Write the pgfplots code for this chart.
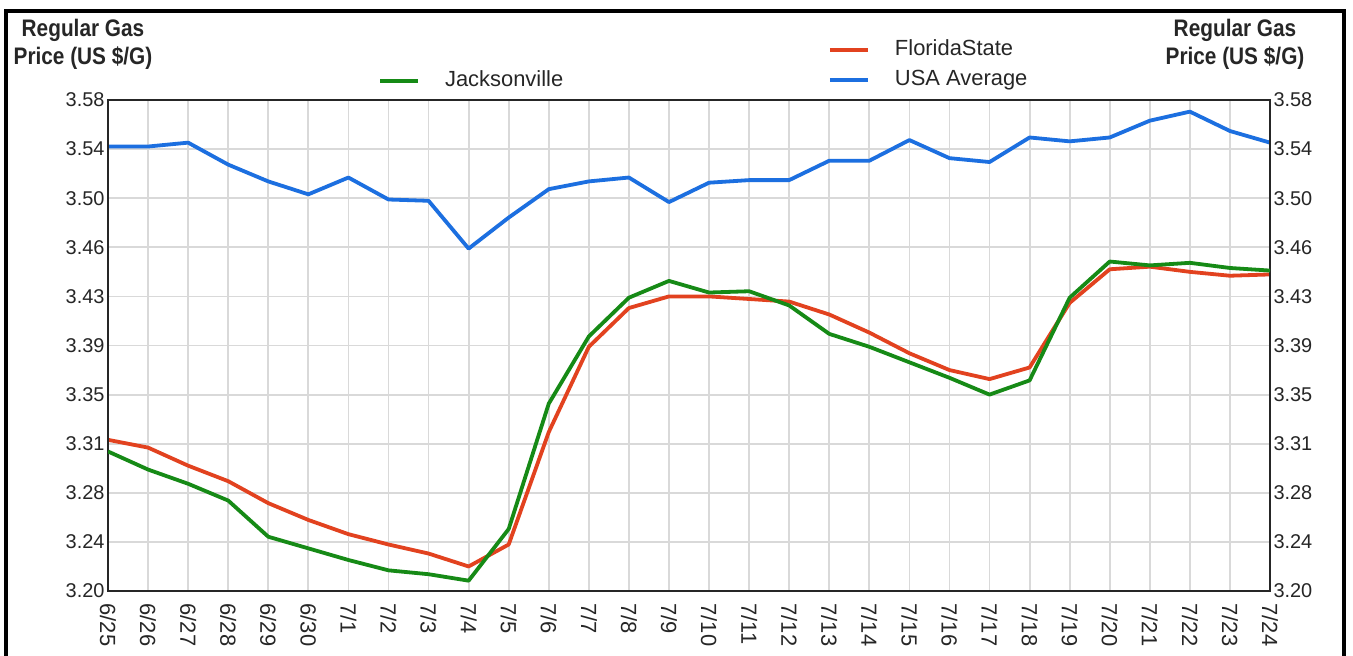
\documentclass[border=0pt]{standalone}
\usepackage{fontspec}
\setmainfont{Liberation Sans}
\newfontfamily\titlefont{Liberation Sans}[FakeStretch=0.87]
\usepackage{pgfplots}
\pgfplotsset{compat=1.18}
\usepackage{pgfplotstable}

\definecolor{cgreen}{HTML}{168A16}
\definecolor{cred}{HTML}{E2421F}
\definecolor{cblue}{HTML}{1C6FE0}
\definecolor{cgrid}{HTML}{D9D9D9}
\definecolor{ctext}{HTML}{262626}

\pgfplotstableread{
x y
0 3.544
1 3.544
2 3.547
3 3.530
4 3.517
5 3.507
6 3.520
7 3.503
8 3.502
9 3.465
10 3.489
11 3.511
12 3.517
13 3.520
14 3.501
15 3.516
16 3.518
17 3.518
18 3.533
19 3.533
20 3.549
21 3.535
22 3.532
23 3.551
24 3.548
25 3.551
26 3.564
27 3.571
28 3.556
29 3.547
}\usa

\pgfplotstableread{
x y
0 3.317
1 3.311
2 3.297
3 3.285
4 3.268
5 3.255
6 3.244
7 3.236
8 3.229
9 3.219
10 3.236
11 3.323
12 3.389
13 3.419
14 3.428
15 3.428
16 3.426
17 3.424
18 3.414
19 3.400
20 3.384
21 3.371
22 3.364
23 3.373
24 3.423
25 3.449
26 3.451
27 3.447
28 3.444
29 3.445
}\florida

\pgfplotstableread{
x y
0 3.308
1 3.294
2 3.283
3 3.270
4 3.242
5 3.233
6 3.224
7 3.216
8 3.213
9 3.208
10 3.248
11 3.345
12 3.397
13 3.427
14 3.440
15 3.431
16 3.432
17 3.421
18 3.399
19 3.389
20 3.377
21 3.365
22 3.352
23 3.363
24 3.427
25 3.455
26 3.452
27 3.454
28 3.450
29 3.448
}\jax

\pgfplotsset{
  base/.style={
    scale only axis, width=1162bp, height=491bp,
    at={(108bp,-591bp)}, anchor=south west,
    xmin=0, xmax=29, ymin=3.2, ymax=3.58,
    ytick={3.200,3.238,3.276,3.314,3.352,3.390,3.428,3.466,3.504,3.542,3.580},
    yticklabels={3.20,3.24,3.28,3.31,3.35,3.39,3.43,3.46,3.50,3.54,3.58},
    tick style={draw=none},
    axis line style={line width=2bp, color=black!85},
    ticklabel style={font=\fontsize{20}{24}\selectfont, text=ctext},
    /pgf/number format/assume math mode=true,
    legend style={draw=none, fill=none, inner sep=0pt, outer sep=0pt,
      font=\fontsize{22}{26}\selectfont, text=ctext,
      nodes={inner sep=0pt, text height=16bp, text depth=5bp},
      row sep=9bp,
      /tikz/every odd column/.append style={column sep=25bp}},
    legend cell align=left,
    legend image code/.code={\draw[#1, line width=4bp] (0bp,0bp) -- (38bp,0bp);},
  },
}

\begin{document}
\begin{tikzpicture}[x=1bp,y=1bp]
\useasboundingbox (0,0) rectangle (1353,-656);
\clip (0,0) rectangle (1353,-656);
\fill[white] (0,0) rectangle (1353,-656);
\draw[line width=3.5bp, black] (6,-11) rectangle (1344,-720);
\node[font=\titlefont\bfseries\fontsize{24}{28}\selectfont, align=center, text=ctext] at (83,-44) {Regular Gas\\Price (US \$/G)};
\node[font=\titlefont\bfseries\fontsize{24}{28}\selectfont, align=center, text=ctext] at (1235,-44) {Regular Gas\\Price (US \$/G)};

\begin{axis}[base,
  grid=major, grid style={cgrid, line width=1.8bp},
  yticklabel pos=left,
  xtick={0,...,29},
  xticklabels={6/25,6/26,6/27,6/28,6/29,6/30,7/1,7/2,7/3,7/4,7/5,7/6,7/7,7/8,7/9,7/10,7/11,7/12,7/13,7/14,7/15,7/16,7/17,7/18,7/19,7/20,7/21,7/22,7/23,7/24},
  xticklabel style={rotate=-90, anchor=west, font=\fontsize{22}{26}\selectfont},
  xticklabel shift=9bp,
  legend style={at={(0.6196,1.1242)}, anchor=north west},
]
\addplot[cred, line width=3.8bp, line join=round] table[x=x,y=y] {\florida};
\addlegendentry{FloridaState}
\addplot[cblue, line width=3.8bp, line join=round] table[x=x,y=y] {\usa};
\addlegendentry{USA Average}
\end{axis}

\begin{axis}[base,
  yticklabel pos=right,
  xtick=\empty,
  legend style={at={(0.2324,1.0611)}, anchor=north west},
]
\addplot[cgreen, line width=3.8bp, line join=round] table[x=x,y=y] {\jax};
\addlegendentry{Jacksonville}
\end{axis}
\end{tikzpicture}
\end{document}
